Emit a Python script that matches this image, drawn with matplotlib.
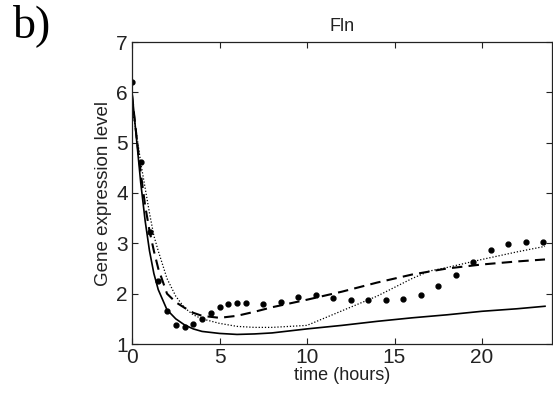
import matplotlib
matplotlib.use("Agg")
import matplotlib.pyplot as plt

# measured data (dots)
t_obs = [0, 0.5, 1.0, 1.5, 2.0, 2.5, 3.0, 3.5, 4.0, 4.5, 5.0, 5.5, 6.0, 6.5,
         7.5, 8.5, 9.5, 10.5, 11.5, 12.5, 13.5, 14.5, 15.5, 16.5, 17.5, 18.5,
         19.5, 20.5, 21.5, 22.5, 23.5]
y_obs = [6.21, 4.61, 3.22, 2.25, 1.66, 1.37, 1.33, 1.39, 1.50, 1.62, 1.73, 1.79,
         1.81, 1.81, 1.80, 1.84, 1.93, 1.97, 1.92, 1.87, 1.87, 1.87, 1.90, 1.98,
         2.15, 2.37, 2.63, 2.86, 2.99, 3.02, 3.02]

# model curves
t_fit = [0, 0.25, 0.5, 0.75, 1.0, 1.25, 1.5, 2.0, 2.5, 3.0, 3.5, 4.0, 5.0, 6.0,
         7.0, 8.0, 10.0, 12.0, 14.0, 16.0, 17.0, 18.0, 20.0, 22.0, 23.6]
y_solid = [6.0, 5.1, 4.2, 3.45, 2.85, 2.4, 2.08, 1.68, 1.5, 1.38, 1.3, 1.25,
           1.21, 1.19, 1.2, 1.22, 1.3, 1.37, 1.45, 1.52, 1.55, 1.58, 1.65, 1.7, 1.75]
y_dashed = [5.95, 5.15, 4.4, 3.75, 3.25, 2.85, 2.5, 2.0, 1.83, 1.72, 1.62, 1.56,
            1.52, 1.56, 1.64, 1.73, 1.88, 2.04, 2.22, 2.38, 2.44, 2.5, 2.58, 2.64, 2.68]
y_dotted = [5.7, 5.2, 4.6, 4.1, 3.6, 3.15, 2.85, 2.3, 1.95, 1.72, 1.58, 1.5,
            1.41, 1.35, 1.33, 1.33, 1.37, 1.66, 1.95, 2.3, 2.45, 2.52, 2.68, 2.83, 2.94]

x_ticks = [0, 5, 10, 15, 20]
y_ticks = [1, 2, 3, 4, 5, 6, 7]

plt.rcParams['font.family'] = ['Liberation Sans', 'DejaVu Sans']

fig = plt.figure(figsize=(5.53, 3.94), dpi=100)
ax = fig.add_axes([132/553, 1-344/394, 420/553, 302/394])

ax.plot(t_fit, y_solid, color='black', lw=1.2, ls='-')
ax.plot(t_fit, y_dashed, color='black', lw=1.5, ls=(0, (5, 3)))
ax.plot(t_fit, y_dotted, color='black', lw=0.9, ls=(0, (1, 1.5)))
ax.plot(t_obs, y_obs, 'o', color='black', ms=3.5, ls='none')

ax.set_xlim(0, 24)
ax.set_ylim(1, 7)
ax.set_xticks(x_ticks)
ax.set_yticks(y_ticks)
ax.tick_params(direction='in', top=True, right=True, length=4, width=0.8,
               labelsize=15, colors='#222222', pad=3)
for s in ax.spines.values():
    s.set_linewidth(0.9)
    s.set_color('#222222')

ax.set_xlabel('time (hours)', fontsize=13, labelpad=0, color='#222222')
ax.set_ylabel('Gene expression level', fontsize=13.5, labelpad=3, color='#222222')
ax.set_title('Fln', fontsize=13, pad=8, color='#222222')

fig.text(13/553, 1-37/394, 'b)', fontsize=33, family='Liberation Serif',
         ha='left', va='baseline')

fig.savefig('out.png', dpi=100)
